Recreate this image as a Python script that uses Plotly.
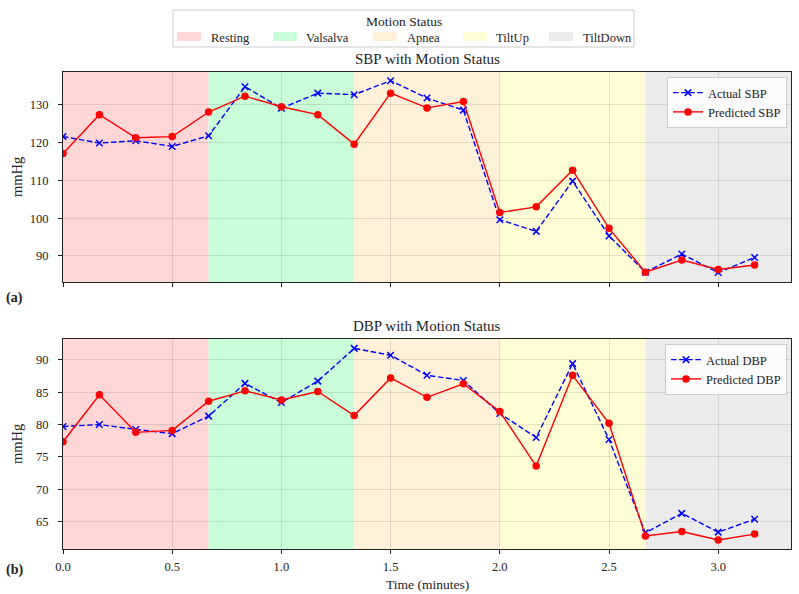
import plotly.graph_objects as go

# ---------------- data ----------------
time_min = [i / 6 for i in range(20)]

sbp_actual = [121.6, 119.9, 120.5, 119.0, 121.8, 134.8, 129.1, 133.1, 132.7, 136.4,
              131.8, 128.6, 99.6, 96.5, 109.8, 95.3, 85.7, 90.5, 85.6, 89.6]
sbp_pred = [117.1, 127.4, 121.3, 121.6, 128.1, 132.3, 129.5, 127.4, 119.6, 133.1,
            129.2, 130.9, 101.5, 103.0, 112.7, 97.3, 85.7, 88.9, 86.4, 87.6]

dbp_actual = [79.7, 80.0, 79.25, 78.6, 81.3, 86.35, 83.4, 86.7, 91.75, 90.7,
              87.6, 86.8, 81.7, 78.0, 89.4, 77.7, 63.3, 66.3, 63.4, 65.4]
dbp_pred = [77.35, 84.6, 78.8, 79.1, 83.6, 85.2, 83.8, 85.1, 81.4, 87.2,
            84.2, 86.3, 82.0, 73.6, 87.6, 80.2, 62.8, 63.5, 62.2, 63.1]

status_names = ["Resting", "Valsalva", "Apnea", "TiltUp", "TiltDown"]
status_start = [0.0, 4 / 6, 8 / 6, 12 / 6, 16 / 6]
status_end = [4 / 6, 8 / 6, 12 / 6, 16 / 6, 20 / 6]
status_colors = ["#FFD6D6", "#C8FDD8", "#FFF0D9", "#FFFDD6", "#EBEBEB"]

x_ticks = [0.0, 0.5, 1.0, 1.5, 2.0, 2.5, 3.0]
sbp_ticks = [90, 100, 110, 120, 130]
dbp_ticks = [65, 70, 75, 80, 85, 90]

# ---------------- layout constants (pixels) ----------------
FONT = "Liberation Serif"
W, H = 799, 594
PLOT_L, PLOT_R = 63, 791
TOP_T, TOP_B = 72, 282
BOT_T, BOT_B = 339, 549
# status legend box and item lefts
LEG_BOX = (173, 10, 634, 47)
LEG_SWATCH_LEFT = [177, 273, 373, 463, 549]
LEG_TEXT_LEFT = [209, 304, 405, 494, 581]


def px_x(p):
    return p / W


def px_y(p):
    return 1 - p / H


fig = go.Figure()

# shaded status regions
for s, e, c in zip(status_start, status_end, status_colors):
    for xr, yr in [("x", "y"), ("x2", "y2")]:
        fig.add_shape(type="rect", xref=xr, yref=f"{yr} domain",
                      x0=s, x1=e, y0=0, y1=1, fillcolor=c, line_width=0, layer="below")

dash = "5.5px,2.6px"
# SBP
fig.add_trace(go.Scatter(x=time_min, y=sbp_actual, mode="lines+markers", name="Actual SBP",
                         line=dict(color="blue", width=1.4, dash=dash),
                         marker=dict(symbol="x-thin", size=6.5, line=dict(color="blue", width=1.5)),
                         xaxis="x", yaxis="y", legend="legend"))
fig.add_trace(go.Scatter(x=time_min, y=sbp_pred, mode="lines+markers", name="Predicted SBP",
                         line=dict(color="red", width=1.4),
                         marker=dict(symbol="circle", size=7.5, color="red"),
                         xaxis="x", yaxis="y", legend="legend"))
# DBP
fig.add_trace(go.Scatter(x=time_min, y=dbp_actual, mode="lines+markers", name="Actual DBP",
                         line=dict(color="blue", width=1.4, dash=dash),
                         marker=dict(symbol="x-thin", size=6.5, line=dict(color="blue", width=1.5)),
                         xaxis="x2", yaxis="y2", legend="legend2"))
fig.add_trace(go.Scatter(x=time_min, y=dbp_pred, mode="lines+markers", name="Predicted DBP",
                         line=dict(color="red", width=1.4),
                         marker=dict(symbol="circle", size=7.5, color="red"),
                         xaxis="x2", yaxis="y2", legend="legend2"))

grid = "rgba(0,0,0,0.10)"
axis_common = dict(showline=True, linecolor="#222", linewidth=1.2, mirror=True,
                   gridcolor=grid, gridwidth=1, zeroline=False, automargin=False,
                   ticks="outside", ticklen=4, tickcolor="#222",
                   tickfont=dict(family=FONT, size=12.5, color="#222"))

leg_common = dict(font=dict(family=FONT, size=12.5, color="#222"),
                  bgcolor="rgba(255,255,255,0.85)", bordercolor="#cccccc",
                  borderwidth=1, tracegroupgap=0, itemwidth=30)

fig.update_layout(
    width=W, height=H,
    margin=dict(l=0, r=0, t=0, b=0, autoexpand=False),
    paper_bgcolor="white", plot_bgcolor="white",
    font=dict(family=FONT, color="#222"),
    xaxis=dict(domain=[px_x(PLOT_L), px_x(PLOT_R)], range=[0, 20 / 6], anchor="y",
               tickvals=x_ticks, showticklabels=False, **axis_common),
    yaxis=dict(domain=[px_y(TOP_B), px_y(TOP_T)], range=[83.1, 138.7], anchor="x",
               tickvals=sbp_ticks, ticklabelstandoff=7, **axis_common),
    xaxis2=dict(domain=[px_x(PLOT_L), px_x(PLOT_R)], range=[0, 20 / 6], anchor="y2",
                tickvals=x_ticks, tickformat=".1f", ticklabelstandoff=2, **axis_common),
    yaxis2=dict(domain=[px_y(BOT_B), px_y(BOT_T)], range=[60.8, 93.2], anchor="x2",
                tickvals=dbp_ticks, ticklabelstandoff=7, **axis_common),
    legend=dict(x=px_x(787), xanchor="right", y=px_y(77), yanchor="top", **leg_common),
    legend2=dict(x=px_x(787), xanchor="right", y=px_y(344), yanchor="top", **leg_common),
)

# ---------------- Motion Status legend (drawn in paper space) ----------------
bx0, by0, bx1, by1 = LEG_BOX
fig.add_shape(type="rect", xref="paper", yref="paper",
              x0=px_x(bx0), x1=px_x(bx1), y0=px_y(by1), y1=px_y(by0),
              fillcolor="white", line=dict(color="#cccccc", width=1), layer="above")

annotations = []
annotations.append(dict(text="Motion Status", x=px_x((bx0 + bx1) / 2), y=px_y(21),
                        xanchor="center", yanchor="middle",
                        font=dict(family=FONT, size=13.5, color="#222")))
for name, c, sl, tl in zip(status_names, status_colors, LEG_SWATCH_LEFT, LEG_TEXT_LEFT):
    fig.add_shape(type="rect", xref="paper", yref="paper",
                  x0=px_x(sl), x1=px_x(sl + 24), y0=px_y(41), y1=px_y(32),
                  fillcolor=c, line_width=0, layer="above")
    annotations.append(dict(text=name, x=px_x(tl), y=px_y(37.5), xanchor="left",
                            yanchor="middle", font=dict(family=FONT, size=12.5, color="#222")))

ann_font = dict(family=FONT, size=15, color="#222")
mid = px_x((PLOT_L + PLOT_R) / 2)
annotations += [
    dict(text="SBP with Motion Status", x=mid, y=px_y(59),
         xanchor="center", yanchor="middle", font=ann_font),
    dict(text="DBP with Motion Status", x=mid, y=px_y(326),
         xanchor="center", yanchor="middle", font=ann_font),
    dict(text="<b>(a)</b>", x=px_x(4), y=px_y(298), xanchor="left", yanchor="middle",
         font=dict(family=FONT, size=14, color="#222")),
    dict(text="<b>(b)</b>", x=px_x(4), y=px_y(570), xanchor="left", yanchor="middle",
         font=dict(family=FONT, size=14, color="#222")),
    dict(text="mmHg", x=px_x(17), y=px_y((TOP_T + TOP_B) / 2), textangle=-90, xanchor="center",
         yanchor="middle", font=dict(family=FONT, size=14.5, color="#222")),
    dict(text="mmHg", x=px_x(17), y=px_y((BOT_T + BOT_B) / 2), textangle=-90, xanchor="center",
         yanchor="middle", font=dict(family=FONT, size=14.5, color="#222")),
    dict(text="Time (minutes)", x=mid, y=px_y(584),
         xanchor="center", yanchor="middle", font=dict(family=FONT, size=13.5, color="#222")),
]
for a in annotations:
    a.update(xref="paper", yref="paper", showarrow=False)
fig.update_layout(annotations=annotations)

fig.write_html("out.html")
